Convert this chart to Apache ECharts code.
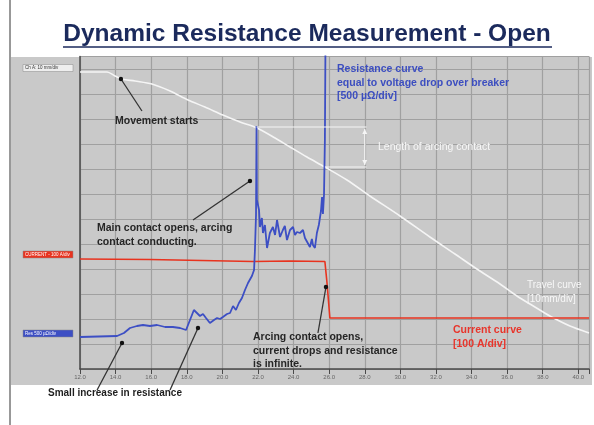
<!DOCTYPE html>
<html><head><meta charset="utf-8">
<script src="https://cdn.jsdelivr.net/npm/echarts@6/dist/echarts.min.js"></script>
<style>html,body{margin:0;padding:0;background:#fff}#c{width:594px;height:425px}</style>
</head><body><div id="c"></div>
<script>
// x in time units (axis 12.0 .. 40.0), y in divisions of the scope screen
const xTicks = [12,14,16,18,20,22,24,26,28,30,32,34,36,38,40];

const travelX = [12.00,13.52,13.97,14.36,15.09,16.04,17.06,18.07,19.02,20.03,20.99,21.94,22.96,23.80,24.75,25.76,27.00,28.29,29.98,31.66,33.07,34.30,35.60,36.55,37.56,38.40,39.53,40.60];
const travelY = [11.88,11.88,11.72,11.60,11.52,11.40,11.12,10.76,10.48,10.16,9.88,9.64,9.24,8.88,8.48,8.08,7.56,6.92,6.12,5.28,4.60,4.00,3.40,2.92,2.48,2.12,1.72,1.44];

const currentX = [12.00,15.93,21.72,23.80,25.76,25.88,26.04,40.60];
const currentY = [4.40,4.38,4.30,4.32,4.30,3.44,2.04,2.04];

const resX = [12.00,14.08,14.47,14.81,15.20,15.54,15.93,16.33,16.78,17.22,17.62,17.96,18.18,18.40,18.57,18.74,18.91,19.08,19.30,19.53,19.70,19.87,20.03,20.26,20.43,20.60,20.76,20.93,21.10,21.27,21.44,21.55,21.66,21.78,21.83,21.89,21.92,21.94,22.06,22.11,22.22,22.28,22.39,22.51,22.67,22.84,22.96,23.07,23.24,23.40,23.51,23.63,23.80,23.97,24.08,24.19,24.36,24.53,24.64,24.75,24.92,25.03,25.09,25.20,25.31,25.42,25.48,25.54,25.60,25.65,25.71,25.76,25.79];
const resY = [1.28,1.32,1.44,1.64,1.72,1.76,1.72,1.76,1.68,1.68,1.64,1.56,1.96,2.36,2.24,2.12,2.20,2.04,1.84,1.96,2.04,2.00,2.08,2.20,2.24,2.52,2.36,2.64,2.84,3.16,3.44,3.36,3.72,3.96,4.76,6.16,9.72,6.76,6.36,5.68,6.04,5.44,5.76,4.84,5.44,5.68,5.36,5.96,5.28,5.56,5.72,5.16,5.56,5.68,5.36,5.48,5.44,5.56,5.24,5.28,4.88,5.20,4.96,4.84,5.44,5.76,5.68,6.32,6.88,6.20,6.96,9.16,12.7];

const zip = (xs, ys) => xs.map((x, i) => [x, ys[i]]);
const FONT = "'Liberation Sans', Arial, sans-serif";

const chart = echarts.init(document.getElementById('c'), null, {renderer: 'canvas'});
chart.setOption({
  backgroundColor: '#ffffff',
  animation: false,
  grid: {left: 80, right: 5, top: 56.5, bottom: 56, containLabel: false},
  xAxis: {
    type: 'value', min: 12, max: 40.6, interval: 2,
    axisLine: {show: true, lineStyle: {color: '#4a4a4a', width: 1.5}},
    axisTick: {show: true, length: 5, lineStyle: {color: '#4a4a4a'}},
    axisLabel: {fontSize: 6, color: '#666', margin: 5, fontFamily: FONT,
      formatter: v => { const r = Math.round(v); return (Math.abs(v - r) < 1e-6 && xTicks.indexOf(r) >= 0) ? r.toFixed(1) : ''; }},
    splitLine: {show: true, lineStyle: {color: '#a0a0a0', width: 1.2}}
  },
  yAxis: {
    type: 'value', min: 0, max: 12.5, interval: 1,
    axisLine: {show: true, lineStyle: {color: '#4a4a4a', width: 1.5}},
    axisTick: {show: false}, axisLabel: {show: false},
    splitLine: {show: true, lineStyle: {color: '#a0a0a0', width: 1.2}}
  },
  series: [
    {type: 'line', data: zip(travelX, travelY), smooth: 0.3, showSymbol: false, lineStyle: {color: '#f5f5f5', width: 1.6}, z: 3},
    {type: 'line', data: zip(currentX, currentY), showSymbol: false, lineStyle: {color: '#e8331f', width: 1.6}, z: 4},
    {type: 'line', data: zip(resX, resY), showSymbol: false, lineStyle: {color: '#3d4fc4', width: 1.8}, z: 5}
  ]
});

const P = (x, y) => chart.convertToPixel({gridIndex: 0}, [x, y]);
const g = [];
// panel background
g.push({type: 'rect', shape: {x: 11, y: 57, width: 581, height: 328}, style: {fill: '#c9c9c9'}, z: -10, silent: true});
// slide left border
g.push({type: 'line', shape: {x1: 10, y1: 0, x2: 10, y2: 425}, style: {stroke: '#333', lineWidth: 1}, z: 10});
// title
g.push({type: 'text', x: 307, y: 34, style: {text: 'Dynamic Resistance Measurement - Open', font: "bold 24.5px " + FONT, fill: '#1b2a5c', align: 'center', verticalAlign: 'middle'}, z: 20});
g.push({type: 'line', shape: {x1: 63, y1: 47, x2: 552, y2: 47}, style: {stroke: '#1b2a5c', lineWidth: 1.5}, z: 20});

// left channel labels
function chLabel(y, fill, txt, col) {
  g.push({type: 'rect', shape: {x: 23, y: y, width: 50, height: 7}, style: {fill: fill, stroke: '#888', lineWidth: 0.5}, z: 15});
  g.push({type: 'text', x: 25, y: y + 3.5, style: {text: txt, font: "4.5px " + FONT, fill: col, verticalAlign: 'middle'}, z: 16});
}
chLabel(64.5, '#eeeeee', 'Ch A: 10 mm/div', '#333');
chLabel(251, '#e8331f', 'CURRENT - 100 A/div', '#fff');
chLabel(330, '#3d4fc4', 'Res 500 µΩ/div', '#fff');

function arrow(a, b) {
  const p1 = P(a[0], a[1]), p2 = P(b[0], b[1]);
  g.push({type: 'line', shape: {x1: p1[0], y1: p1[1], x2: p2[0], y2: p2[1]}, style: {stroke: '#333', lineWidth: 1.3}, z: 30});
  g.push({type: 'circle', shape: {cx: p2[0], cy: p2[1], r: 2.2}, style: {fill: '#111'}, z: 30});
}
arrow([15.48, 10.32], [14.30, 11.60]);
arrow([18.35, 5.96], [21.55, 7.52]);
arrow([25.37, 1.44], [25.82, 3.28]);
arrow([12.96, -0.84], [14.36, 1.04]);
arrow([17.06, -0.84], [18.63, 1.64]);

// arcing contact length marker
function wline(a, b) {
  const p1 = P(a[0], a[1]), p2 = P(b[0], b[1]);
  g.push({type: 'line', shape: {x1: p1[0], y1: p1[1], x2: p2[0], y2: p2[1]}, style: {stroke: '#f5f5f5', lineWidth: 1.2}, z: 30});
  return [p1, p2];
}
wline([21.92, 9.68], [28.10, 9.68]);
wline([25.76, 8.08], [28.10, 8.08]);
const v = wline([28.0, 9.60], [28.0, 8.16]);
g.push({type: 'polygon', shape: {points: [[v[0][0], v[0][1]], [v[0][0] - 2.5, v[0][1] + 5], [v[0][0] + 2.5, v[0][1] + 5]]}, style: {fill: '#f5f5f5'}, z: 30});
g.push({type: 'polygon', shape: {points: [[v[1][0], v[1][1]], [v[1][0] - 2.5, v[1][1] - 5], [v[1][0] + 2.5, v[1][1] - 5]]}, style: {fill: '#f5f5f5'}, z: 30});

function txt(x, y, t, font, fill) {
  g.push({type: 'text', x: x, y: y, style: {text: t, font: font + ' ' + FONT, fill: fill, lineHeight: 13.5, verticalAlign: 'middle'}, z: 25});
}
const B = 'bold 10.5px';
txt(115, 121, 'Movement starts', B, '#262626');
txt(97, 235, 'Main contact opens, arcing\ncontact conducting.', B, '#262626');
txt(253, 351, 'Arcing contact opens,\ncurrent drops and resistance\nis infinite.', B, '#262626');
txt(48, 393, 'Small increase in resistance', 'bold 10px', '#1e1e1e');
txt(337, 83, 'Resistance curve\nequal to voltage drop over breaker\n[500 µΩ/div]', 'bold 10.5px', '#3c4ec0');
txt(378, 147, 'Length of arcing contact', '10.5px', '#f7f7f7');
txt(527, 292, 'Travel curve\n[10mm/div]', '10px', '#f7f7f7');
txt(453, 337, 'Current curve\n[100 A/div]', 'bold 10.5px', '#e8352b');

chart.setOption({graphic: {elements: g}});
</script>
</body></html>
